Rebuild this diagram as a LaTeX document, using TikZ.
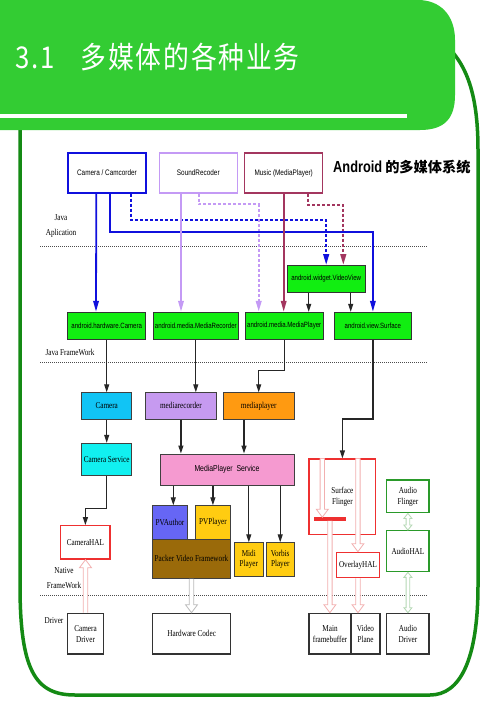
\documentclass[tikz,border=0pt]{standalone}
\usepackage{fontspec}
\setmainfont{Liberation Serif}
\newfontfamily\nserif[FakeStretch=0.8]{Liberation Serif}
\newfontfamily\nsans[FakeStretch=0.8]{Liberation Sans}
\newfontfamily\cjk{Noto Sans CJK SC}
\newfontfamily\cjktitle[FakeStretch=0.86, LetterSpace=6]{Noto Sans CJK SC}
\usetikzlibrary{arrows.meta,calc}
\definecolor{hdr}{HTML}{33CC33}
\definecolor{framec}{HTML}{148A14}
\definecolor{bl}{HTML}{1010DD}
\definecolor{lav}{HTML}{C49AF5}
\definecolor{mar}{HTML}{A3365F}
\definecolor{gbox}{HTML}{11EE11}
\definecolor{camc}{HTML}{11C4F5}
\definecolor{camsc}{HTML}{11F0F0}
\definecolor{mrc}{HTML}{C69AF0}
\definecolor{mpc}{HTML}{FF9A11}
\definecolor{mpsc}{HTML}{F59AD0}
\definecolor{pvac}{HTML}{6666F5}
\definecolor{yel}{HTML}{FFCC11}
\definecolor{pvfc}{HTML}{9A6A0A}
\definecolor{redb}{HTML}{EE3030}
\definecolor{pinkh}{HTML}{F2B0B0}
\definecolor{grnb}{HTML}{2A9A2A}
\definecolor{grnh}{HTML}{B4D8B4}
\definecolor{grayh}{HTML}{BBBBBB}
% hollow arrow: color, from, to, signed head length
\newcommand\harrow[4]{%
  \draw[#1, line width=0.8pt, fill=white, line join=miter] let \p1=#2, \p2=#3 in
   (\x1-2.2pt,\y1) -- (\x1-2.2pt,\y2+#4) -- (\x1-6pt,\y2+#4) -- (\x1,\y2)
   -- (\x1+6pt,\y2+#4) -- (\x1+2.2pt,\y2+#4) -- (\x1+2.2pt,\y1);}
% double headed hollow arrow: color, top, bottom
\newcommand\hdarrow[3]{%
  \draw[#1, line width=0.8pt, fill=white, line join=miter] let \p1=#2, \p2=#3 in
   (\x1,\y1) -- (\x1-4pt,\y1-5pt) -- (\x1-1.8pt,\y1-5pt) -- (\x1-1.8pt,\y2+5pt)
   -- (\x1-4pt,\y2+5pt) -- (\x1,\y2) -- (\x1+4pt,\y2+5pt) -- (\x1+1.8pt,\y2+5pt)
   -- (\x1+1.8pt,\y1-5pt) -- (\x1+4pt,\y1-5pt) -- cycle;}
\tikzset{
  sz/.style 2 args={minimum width=#1pt, minimum height=#2pt},
  topbx/.style={draw=#1, line width=1.4pt, fill=white, inner sep=0pt, font=\nsans\fontsize{8}{9}\selectfont},
  gbx/.style={draw=black!80, line width=1pt, fill=gbox, inner sep=0pt, font=\nsans\fontsize{7.6}{9}\selectfont},
  sbx/.style={draw=black!75, line width=1pt, fill=#1, inner sep=0pt, align=center, font=\nserif\fontsize{9}{10.5}\selectfont},
  hbx/.style={draw=#1, line width=1.3pt, fill=white, inner sep=0pt, align=center, font=\nserif\fontsize{9}{11}\selectfont},
  lbl/.style={inner sep=0pt, align=center, font=\nserif\fontsize{9}{15}\selectfont},
  colar/.style={draw=#1, line width=1.8pt, -{Triangle[length=11pt,width=5.5pt]}},
  colda/.style={draw=#1, line width=2.2pt, dash pattern=on 3pt off 2pt, -{Triangle[length=11pt,width=5.5pt]}},
  blk/.style={draw=black!85, line width=1.2pt, -{Triangle[length=8pt,width=5pt]}},
  sepline/.style={draw=black!70, line width=1pt, dash pattern=on 1pt off 1pt},
}
\begin{document}
\begin{tikzpicture}[x=1pt,y=-1pt]
\useasboundingbox (0,0) rectangle (499,706);
\fill[white] (0,0) rectangle (499,706);
% frame
\draw[framec, line width=3.5pt] (440,40) .. controls (465,60) and (478,90) .. (478,150)
  -- (478,585) .. controls (478,660) and (460,695) .. (430,695) -- (75,695)
  .. controls (35,695) and (20,670) .. (20,585) -- (20,125);
% header
\fill[hdr] (0,0) -- (418,0) .. controls (440,0) and (455,15) .. (455,40) -- (455,95)
  .. controls (455,118) and (445,130) .. (420,130) -- (0,130) -- cycle;
\draw[white, line width=3.5pt] (0,116) -- (407,116);
\node[anchor=west, white, inner sep=0pt, font=\cjktitle\fontsize{30}{32}\selectfont] (title) at (15,57) {3.1\hspace{26pt}多媒体的各种业务};
\node[anchor=west, inner sep=0pt] (subtitle) at (333,166.7) {\nsans\bfseries\fontsize{16}{18}\selectfont Android\hspace{3pt}\cjk\fontsize{14.2}{18}\selectfont 的多媒体系统};
% separators
\draw[sepline] (40,246) -- (428,246);
\draw[sepline] (40,362.3) -- (428,362.3);
\draw[sepline] (40,595) -- (428,595);
% labels
\node[lbl] (lja) at (61,226) {Java\\Aplication};
\node[lbl] (ljf) at (70,352) {Java FrameWork};
\node[lbl] (lnf) at (64,578.5) {Native\\FrameWork};
\node[lbl] (ldr) at (54,621) {Driver};
% top boxes
\node[topbx=bl, sz={78}{40}] (cc) at (107,173) {Camera / Camcorder};
\node[topbx=lav, sz={78}{40}] (sr) at (198.3,173) {SoundRecoder};
\node[topbx=mar, sz={78}{40}] (mu) at (283.7,173) {Music (MediaPlayer)};
% green boxes
\node[gbx, sz={77.7}{26.6}] (vv) at (326.2,279) {android.widget.VideoView};
\node[gbx, sz={78}{27}] (hwcam) at (106.7,325.8) {android.hardware.Camera};
\node[gbx, sz={85}{27}] (mrec) at (195.8,325.8) {android.media.MediaRecorder};
\node[gbx, sz={78.3}{27}] (mplay) at (284.2,325.8) {android.media.MediaPlayer};
\node[gbx, sz={77.7}{27}] (surf) at (372.9,325.8) {android.view.Surface};
% native boxes
\node[sbx=camc, sz={50}{26.3}] (camera) at (106.7,405.9) {Camera};
\node[sbx=mrc, sz={70.3}{26.3}] (mrec2) at (180.9,405.9) {mediarecorder};
\node[sbx=mpc, sz={70.7}{26.3}] (mplay2) at (258.7,405.9) {mediaplayer};
\node[sbx=camsc, sz={50}{32.4}] (camsvc) at (106.7,459.5) {Camera Service};
\node[hbx=redb, sz={49.3}{33.3}] (camhal) at (85.4,542.4) {CameraHAL};
\node[sbx=mpsc, sz={134}{31}, font=\nsans\fontsize{8.6}{10}\selectfont] (mps) at (227,469.5) {MediaPlayer\ \ Service};
\node[sbx=pvac, sz={35.4}{33.3}] (pva) at (170,522.4) {PVAuthor};
\node[sbx=yel, sz={35.7}{33.3}] (pvp) at (212.9,522.4) {PVPlayer};
\node[sbx=pvfc, sz={78.4}{39.3}] (pvf) at (191.5,558.7) {Packer Video Framework};
\node[sbx=yel, sz={29}{33.3}] (midi) at (248.8,559.4) {Midi\\Player};
\node[sbx=yel, sz={28.3}{33.3}] (vorbis) at (280.2,559.4) {Vorbis\\Player};
\node[hbx=redb, sz={66.7}{75.3}] (sf) at (342.4,496.7) {Surface\\Flinger};
\node[hbx=redb, sz={42.6}{25.4}] (ohal) at (358,565) {OverlayHAL};
\node[hbx=grnb, sz={42.3}{32.7}] (af) at (407.9,496.4) {Audio\\Flinger};
\node[hbx=grnb, sz={42.3}{41}] (ahal) at (407.9,551.2) {AudioHAL};
\node[fill=redb, inner sep=0pt, sz={31.7}{3.2}] (bar) at (329.9,519) {};
% drivers
\node[hbx=black!80, sz={35.6}{40.7}] (camdrv) at (85.5,633.7) {Camera\\Driver};
\node[hbx=black!80, sz={78}{40.7}] (hwc) at (191.7,633.7) {Hardware Codec};
\node[hbx=black!80, sz={42}{40.7}] (mfb) at (330,633.7) {Main\\framebuffer};
\node[hbx=black!80, sz={29}{40.7}] (vp) at (365.5,633.7) {Video\\Plane};
\node[hbx=black!80, sz={42.3}{40.7}] (ad) at (407.9,633.7) {Audio\\Driver};
% helper coordinates
\coordinate (ya) at (0,232.3);
\coordinate (yb) at (0,220);
\coordinate (yc) at (0,204.3);
\coordinate (yd) at (0,205);
\coordinate (ye) at (0,370.7);
\coordinate (yf) at (0,419);
\coordinate (yg) at (0,508.3);
\coordinate (mpL) at ([xshift=-25.5pt]mplay.north);
\coordinate (vvR) at ([xshift=17.1pt]vv.north);
\coordinate (vvA) at ([xshift=-17.5pt]vv.south);
\coordinate (vvB) at ([xshift=24.5pt]vv.south);
\coordinate (mpA) at ([xshift=-14.7pt]mplay2.south);
\coordinate (pvaT) at ([xshift=3.3pt]pva.north);
% application connectors
\draw[colda=bl] ([xshift=24.3pt]cc.south) |- (vv.north |- yb) -- (vv.north);
\draw[colda=lav] ([xshift=0.7pt]sr.south) |- (mpL |- yc) -- (mpL);
\draw[colda=mar] ([xshift=24.6pt]mu.south) |- (vvR |- yd) -- (vvR);
\draw[colar=bl] ([xshift=-10.7pt]cc.south) -- ([xshift=-10.7pt]hwcam.north);
\draw[colar=bl] ([xshift=3.3pt]cc.south) |- (surf.north |- ya) -- (surf.north);
\draw[colar=lav] ([xshift=-17.3pt]sr.south) -- ([xshift=-14.8pt]mrec.north);
\draw[colar=mar] (mu.south) -- (mu.south |- mplay.north);
\draw[blk] (vvA) -- (vvA |- mplay.north);
\draw[blk] (vvB) -- (vvB |- surf.north);
% framework connectors
\draw[blk] (hwcam.south) -- (camera.north);
\draw[blk] (mrec.south) -- (mrec.south |- mrec2.north);
\draw[blk] (mplay.south) -- (mplay.south |- ye) -| (mplay2.north);
\draw[blk] (surf.south) -- (surf.south |- yf) -| (sf.north);
\draw[blk] (camera.south) -- (camsvc.north);
\draw[blk] (camsvc.south) -- (camsvc.south |- yg) -| (camhal.north);
\draw[blk] (mrec2.south) -- (mrec2.south |- mps.north);
\draw[blk] (mpA) -- (mpA |- mps.north);
\draw[blk] (mps.south -| pvaT) -- (pvaT);
\draw[blk] (mps.south -| pvp.north) -- (pvp.north);
\draw[blk] (mps.south -| midi.north) -- (midi.north);
\draw[blk] (mps.south -| vorbis.north) -- (vorbis.north);
% hollow arrows
\harrow{pinkh}{(camdrv.north)}{(camhal.south)}{-8pt}
\harrow{grayh}{(pvf.south)}{(hwc.north)}{8pt}
\harrow{pinkh}{([xshift=-20.1pt]sf.north)}{(bar.north)}{8pt}
\harrow{pinkh}{([xshift=15.5pt]sf.north)}{(ohal.north)}{8pt}
\harrow{pinkh}{(bar.south)}{(mfb.north)}{8pt}
\harrow{pinkh}{(ohal.south)}{(vp.north)}{8pt}
\hdarrow{grnh}{(af.south)}{(ahal.north)}
\hdarrow{grnh}{(ahal.south)}{(ad.north)}
\end{tikzpicture}
\end{document}
